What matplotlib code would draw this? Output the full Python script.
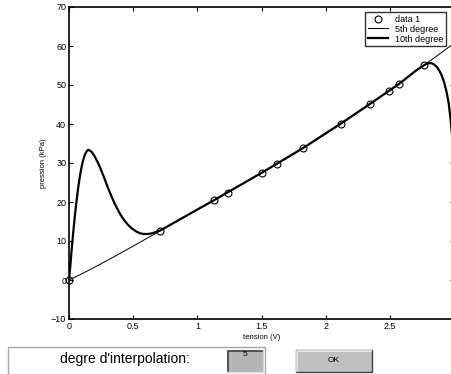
import numpy as np
import matplotlib.pyplot as plt
from matplotlib.patches import Rectangle

# measured points (tension in V, pression in kPa)
tension = [0.0, 0.71, 1.128, 1.237, 1.502, 1.616, 1.823, 2.114, 2.342, 2.488, 2.566, 2.763]
pression = [0.0, 12.6, 20.5, 22.4, 27.5, 29.7, 33.8, 40.0, 45.1, 48.5, 50.3, 55.1]

# 10th degree curve
curve10_x = [0, 0.01, 0.02, 0.03, 0.04, 0.05, 0.06, 0.07, 0.08, 0.09, 0.10, 0.11, 0.12,
             0.13, 0.14, 0.15, 0.175, 0.20, 0.225, 0.25, 0.275, 0.30, 0.325, 0.35,
             0.375, 0.40, 0.43, 0.46, 0.49, 0.52, 0.55, 0.58, 0.62, 0.66, 0.71,
             1.13, 1.50, 1.82, 2.11, 2.34, 2.49, 2.57, 2.70, 2.76, 2.78, 2.80, 2.82,
             2.84, 2.86, 2.88, 2.90, 2.92, 2.94, 2.955, 2.97, 2.98, 2.99, 3.0]
curve10_y = [0, 3.5, 7.5, 11.2, 14.6, 17.8, 20.7, 23.3, 25.6, 27.6, 29.3, 30.7, 31.8,
             32.6, 33.1, 33.4, 32.9, 31.7, 30.1, 28.2, 26.1, 23.9, 21.9, 20.0,
             18.3, 16.8, 15.3, 14.1, 13.2, 12.5, 12.0, 11.8, 11.8, 12.1, 12.7,
             20.5, 27.5, 33.8, 40.0, 45.1, 48.5, 50.3, 53.7, 55.0, 55.4, 55.6, 55.6,
             55.3, 54.7, 53.8, 52.5, 50.6, 48.0, 45.3, 41.0, 37.5, 33.5, 29.0]

xticks = [0, 0.5, 1, 1.5, 2, 2.5, 3]
xticklabels = ['0', '0.5', '1', '1.5', '2', '2.5', '']
yticks = [-10, 0, 10, 20, 30, 40, 50, 60, 70]

W, H = 452, 374
plt.rcParams['font.family'] = ['Liberation Sans', 'DejaVu Sans']

fig = plt.figure(figsize=(W / 100, H / 100), dpi=100)
ax = fig.add_axes([69 / W, (H - 319) / H, (454.5 - 69) / W, 312 / H])

x = np.array(tension)
y = np.array(pression)
xs = np.linspace(0, 3, 400)

ax.plot(x, y, 'o', mfc='none', mec='black', ms=5, mew=0.8, label='data 1', clip_on=False)
p5 = np.polyfit(x, y, 5)
ax.plot(xs, np.polyval(p5, xs), color='black', lw=0.7, label='5th degree')
ax.plot(curve10_x, curve10_y, color='black', lw=1.6, label='10th degree',
        solid_joinstyle='round')

ax.set_xlim(0, 3)
ax.set_ylim(-10, 70)
ax.set_xticks(xticks)
ax.set_xticklabels(xticklabels)
ax.set_yticks(yticks)
ax.tick_params(direction='in', length=3, width=0.8, labelsize=6.5, pad=2,
               top=True, right=True)
for s in ax.spines.values():
    s.set_linewidth(1.2)
ax.set_xlabel('tension (V)', fontsize=5.5, labelpad=2)
ax.set_ylabel('pression (kPa)', fontsize=5.5, labelpad=3)

leg = ax.legend(loc='upper right', bbox_to_anchor=(446 / W, (H - 12) / H),
                bbox_transform=fig.transFigure, fontsize=6.5, frameon=True,
                fancybox=False, handlelength=2.2, handletextpad=0.8,
                borderpad=0.3, labelspacing=0.1, borderaxespad=0)
leg.get_frame().set_edgecolor('black')
leg.get_frame().set_linewidth(1.0)


def px_rect(x0, y0, x1, y1, **kw):
    r = Rectangle((x0 / W, 1 - y1 / H), (x1 - x0) / W, (y1 - y0) / H,
                  transform=fig.transFigure, **kw)
    fig.add_artist(r)


# text panel
px_rect(8, 347, 265, 380, facecolor='white', edgecolor='#a8a8a8', lw=1.0)
fig.text(125 / W, 1 - 359 / H, "degre d'interpolation:", fontsize=10,
         ha='center', va='center')

# edit box
px_rect(227, 350, 263, 372, facecolor='#b4b4b4', edgecolor='#d8d8d8', lw=1.0)
fig.add_artist(plt.Line2D([228 / W, 228 / W, 262 / W], [1 - 371 / H, 1 - 351 / H, 1 - 351 / H],
                          transform=fig.transFigure, color='#404040', lw=1.2))
fig.text(245 / W, 1 - 355 / H, '5', fontsize=6, ha='center', va='center')

# OK button
px_rect(296, 350, 372, 372, facecolor='#c0c0c0', edgecolor='#404040', lw=1.0)
fig.add_artist(plt.Line2D([297 / W, 297 / W, 371 / W], [1 - 371 / H, 1 - 351 / H, 1 - 351 / H],
                          transform=fig.transFigure, color='#f0f0f0', lw=1.2))
fig.text(334 / W, 1 - 361 / H, 'OK', fontsize=6, ha='center', va='center')

fig.savefig('out.png', dpi=100)
